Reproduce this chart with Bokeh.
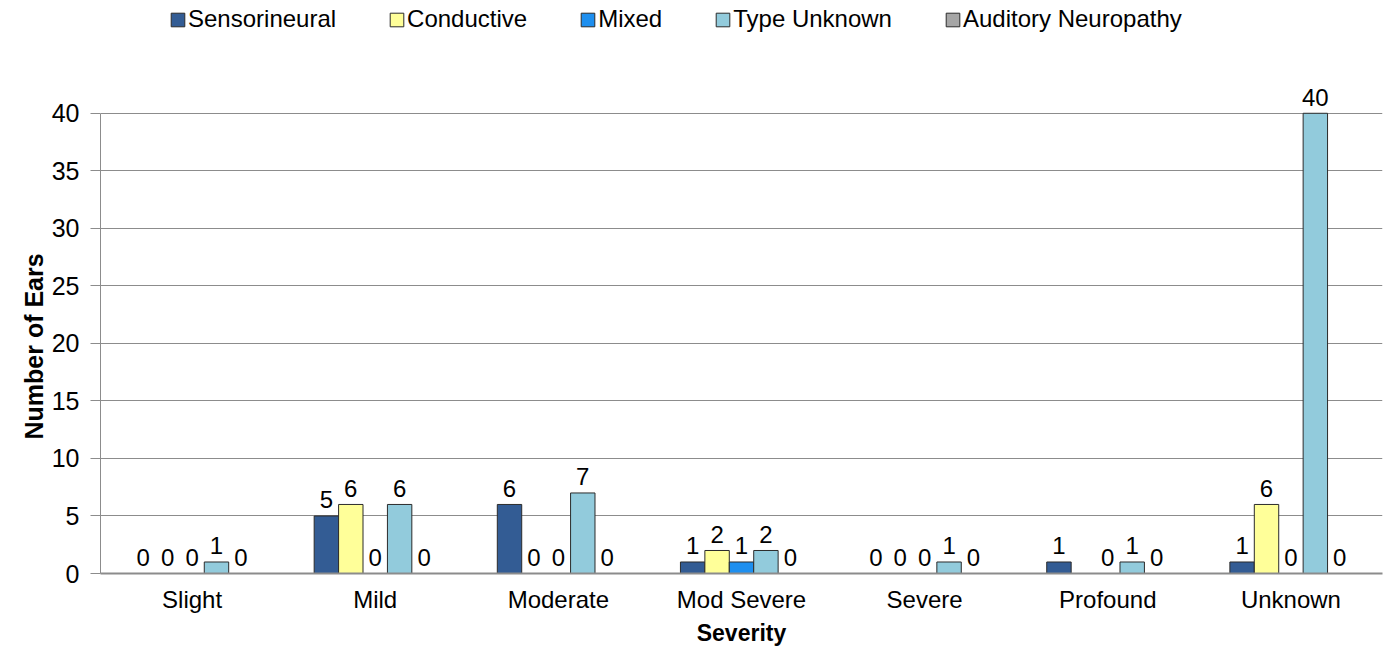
from bokeh.plotting import figure
from bokeh.models import Range1d, FixedTicker, Legend, LegendItem, ColumnDataSource, Title
from bokeh.core.properties import value
from bokeh.embed import file_html
from bokeh.resources import INLINE

categories = ["Slight", "Mild", "Moderate", "Mod Severe", "Severe", "Profound", "Unknown"]
series_names = ["Sensorineural", "Conductive", "Mixed", "Type Unknown", "Auditory Neuropathy"]
sensorineural = [0, 5, 6, 1, 0, 1, 1]
conductive = [0, 6, 0, 2, 0, 0, 6]
mixed = [0, 0, 0, 1, 0, 0, 0]
type_unknown = [1, 6, 7, 2, 1, 1, 40]
auditory_neuropathy = [0, 0, 0, 0, 0, 0, 0]
# data labels as shown (Profound / Conductive has no label in the original)
sensorineural_labels = ["0", "5", "6", "1", "0", "1", "1"]
conductive_labels = ["0", "6", "0", "2", "0", "", "6"]
mixed_labels = ["0", "0", "0", "1", "0", "0", "0"]
type_unknown_labels = ["1", "6", "7", "2", "1", "1", "40"]
auditory_neuropathy_labels = ["0", "0", "0", "0", "0", "0", "0"]
y_ticks = [0, 5, 10, 15, 20, 25, 30, 35, 40]

series_values = [sensorineural, conductive, mixed, type_unknown, auditory_neuropathy]
series_labels = [sensorineural_labels, conductive_labels, mixed_labels,
                 type_unknown_labels, auditory_neuropathy_labels]
colors = ["#335C94", "#FFFF99", "#1E8FEF", "#92CBDC", "#A6A6A6"]

FONT = "Liberation Sans"

# frame extends above the 0-40 axis so that the legend (inside the frame) is visible
p = figure(width=1386, height=648, output_backend="svg", toolbar_location=None,
           x_range=Range1d(-0.5, 6.5), y_range=Range1d(0, 49.54),
           min_border_left=100, min_border_right=4, min_border_top=3,
           min_border_bottom=74)
p.outline_line_color = None
p.background_fill_color = "white"

bw = 2.0 / 15.0
renderers = []
for i, (name, vals, labs, col) in enumerate(zip(series_names, series_values, series_labels, colors)):
    xs = [k + (i - 2) * bw for k in range(len(categories))]
    src = ColumnDataSource(dict(x=xs, top=vals, lab=labs))
    r = p.vbar(x="x", top="top", width=bw, bottom=0, source=src,
               fill_color=col, line_color="#2b2b2b", line_width=1)
    renderers.append((name, r))
    p.text(x="x", y="top", text="lab", source=src, text_align="center",
           text_baseline="alphabetic", y_offset=-16, text_font=value(FONT),
           text_font_size="24px", text_color="black")

# axes
p.xaxis.ticker = FixedTicker(ticks=list(range(len(categories))))
p.xaxis.major_label_overrides = {k: c for k, c in enumerate(categories)}
p.xaxis.major_tick_line_color = None
p.xaxis.minor_tick_line_color = None
p.xaxis.axis_line_color = "#8c8c8c"
p.xaxis.axis_line_width = 2
p.xaxis.major_label_standoff = 6
p.xaxis.major_label_text_font = FONT
p.xaxis.major_label_text_font_size = "24px"
p.xaxis.major_label_text_color = "black"
p.xaxis.axis_label = "Severity"
p.xaxis.axis_label_text_font = FONT
p.xaxis.axis_label_text_font_style = "bold"
p.xaxis.axis_label_text_font_size = "23px"
p.xaxis.axis_label_standoff = 4
p.xaxis.axis_label_text_color = "black"

p.yaxis.ticker = FixedTicker(ticks=y_ticks)
p.yaxis.bounds = (0, 40)
p.yaxis.minor_tick_line_color = None
p.yaxis.major_tick_out = 10
p.yaxis.major_tick_in = 0
p.yaxis.major_tick_line_color = "#8c8c8c"
p.yaxis.axis_line_color = "#8c8c8c"
p.yaxis.major_label_standoff = 11
p.yaxis.major_label_text_font = FONT
p.yaxis.major_label_text_font_size = "25px"
p.yaxis.major_label_text_color = "black"

ytitle = Title(text="Number of Ears", align="left", offset=134, standoff=2,
               text_font=FONT, text_font_style="bold", text_font_size="25px",
               text_color="black")
p.add_layout(ytitle, "left")

p.xgrid.grid_line_color = None
p.ygrid.ticker = FixedTicker(ticks=y_ticks)
p.ygrid.grid_line_color = "#8c8c8c"
p.ygrid.grid_line_width = 1

legend = Legend(items=[LegendItem(label=n, renderers=[r]) for n, r in renderers],
                orientation="horizontal", location=(69, 540),
                glyph_width=17, glyph_height=17, label_standoff=2, spacing=52,
                padding=0, margin=0, border_line_color=None,
                background_fill_alpha=0, label_text_font=FONT,
                label_text_font_size="24px", label_text_color="black")
p.add_layout(legend, "center")

open("out.html", "w").write(file_html(p, INLINE))
